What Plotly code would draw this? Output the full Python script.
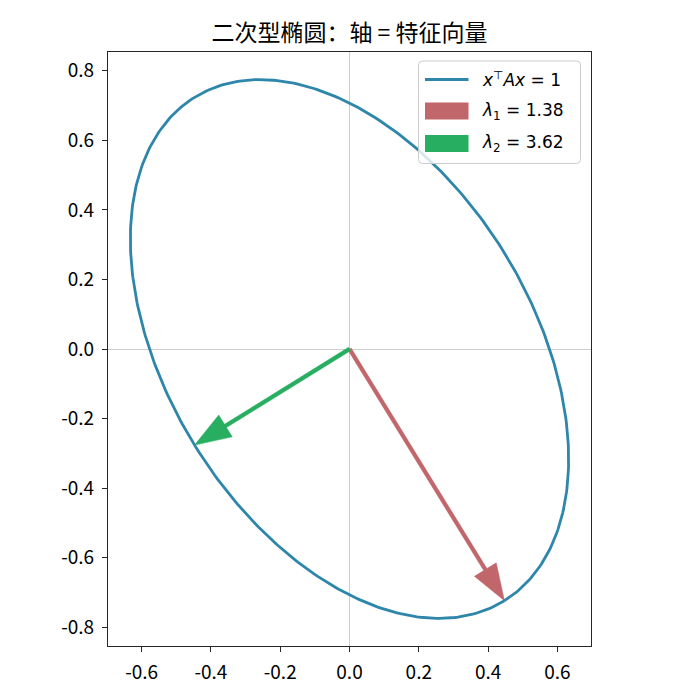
import numpy as np
import plotly.graph_objects as go

# quadratic form x^T A x = 1
A = [[3.0, 1.0],
     [1.0, 2.0]]

x_ticks = [-0.6, -0.4, -0.2, 0.0, 0.2, 0.4, 0.6]
y_ticks = [-0.8, -0.6, -0.4, -0.2, 0.0, 0.2, 0.4, 0.6, 0.8]
x_range = [-0.697, 0.697]
y_range = [-0.854, 0.854]

ellipse_color = '#2e86ab'
arrow_colors = ['#c1666b', '#27ae60']

lam, vecs = np.linalg.eigh(np.array(A))

# ellipse from the eigen decomposition
t = np.linspace(0, 2 * np.pi, 400)
pts = vecs @ np.diag(1 / np.sqrt(lam)) @ np.vstack([np.cos(t), np.sin(t)])

# semi-axis vectors (both drawn pointing down, as in the figure)
tips = []
for i in range(2):
    v = vecs[:, i]
    if v[1] > 0:
        v = -v
    tips.append(v / np.sqrt(lam[i]))


def arrow_poly(tip, shaft=0.0055, head_w=0.037, head_l=0.105):
    tip = np.asarray(tip)
    u = tip / np.linalg.norm(tip)
    n = np.array([-u[1], u[0]])
    base = tip - u * head_l
    p = [n * shaft, base + n * shaft, base + n * head_w, tip,
         base - n * head_w, base - n * shaft, -n * shaft, n * shaft]
    p = np.array(p)
    return p[:, 0], p[:, 1]


fig = go.Figure()

for i in range(2):
    ax_, ay_ = arrow_poly(tips[i])
    fig.add_trace(go.Scatter(x=ax_, y=ay_, mode='lines', fill='toself',
                             fillcolor=arrow_colors[i],
                             line=dict(color=arrow_colors[i], width=0.5),
                             hoverinfo='skip', showlegend=False))

fig.add_trace(go.Scatter(x=pts[0], y=pts[1], mode='lines',
                         line=dict(color=ellipse_color, width=2.8),
                         showlegend=False))

# page has an 8px body margin, so the plot box is placed 8px up/left
L, T = 100, 44
W, H = 483, 594


# legend is laid out in pixels relative to the plot box (x 0..483, y 0..594)
def px(x):
    return x / W


def py(y):
    return (H - y) / H


shapes = []
x0, x1, y0, y1, r = 310.5, 472.5, 9, 111.5, 4
path = (f'M {px(x0 + r)},{py(y0)} L {px(x1 - r)},{py(y0)} '
        f'Q {px(x1)},{py(y0)} {px(x1)},{py(y0 + r)} '
        f'L {px(x1)},{py(y1 - r)} Q {px(x1)},{py(y1)} {px(x1 - r)},{py(y1)} '
        f'L {px(x0 + r)},{py(y1)} Q {px(x0)},{py(y1)} {px(x0)},{py(y1 - r)} '
        f'L {px(x0)},{py(y0 + r)} Q {px(x0)},{py(y0)} {px(x0 + r)},{py(y0)} Z')
shapes.append(dict(type='path', xref='paper', yref='paper', path=path,
                   fillcolor='rgba(255,255,255,0.8)',
                   line=dict(color='#cccccc', width=1), layer='above'))
shapes.append(dict(type='line', xref='paper', yref='paper',
                   x0=px(317), x1=px(360.5), y0=py(27.5), y1=py(27.5),
                   line=dict(color=ellipse_color, width=2.8), layer='above'))
for c, (ya, yb) in zip(arrow_colors, [(50.5, 67.5), (83, 100)]):
    shapes.append(dict(type='rect', xref='paper', yref='paper',
                       x0=px(317), x1=px(360.5), y0=py(yb), y1=py(ya),
                       fillcolor=c, line=dict(width=0), layer='above'))

labels = ['<i>x</i><sup>⊤</sup><i>Ax</i> = 1',
          f'<i>λ</i><sub>1</sub> = {lam[0]:.2f}',
          f'<i>λ</i><sub>2</sub> = {lam[1]:.2f}']
annotations = []
for lab, yc in zip(labels, [27.5, 59, 91.5]):
    annotations.append(dict(xref='paper', yref='paper', x=px(372), y=py(yc),
                            xanchor='left', yanchor='middle', showarrow=False,
                            text=lab, font=dict(family='DejaVu Sans', size=17,
                                                color='black')))

axis_common = dict(showline=True, mirror=True, linecolor='#262626', linewidth=1.1,
                   ticks='outside', ticklen=5, tickwidth=1.1, tickcolor='#262626',
                   showgrid=False, zeroline=True, zerolinecolor='#cccccc',
                   zerolinewidth=0.9, ticklabelstandoff=4,
                   tickfont=dict(family='Noto Sans CJK SC', size=19, color='black'))

fig.update_layout(
    width=700, height=700,
    margin=dict(l=L, r=700 - L - W, t=T, b=700 - T - H),
    paper_bgcolor='white', plot_bgcolor='white',
    title=dict(text='二次型椭圆：轴 = 特征向量', x=0.5, xref='paper',
               y=1 - 24.5 / 700, yanchor='middle',
               font=dict(family='Noto Sans CJK SC', size=23, color='black')),
    xaxis=dict(range=x_range, tickvals=x_ticks,
               ticktext=[f'{v:.1f}' for v in x_ticks], **axis_common),
    yaxis=dict(range=y_range, tickvals=y_ticks,
               ticktext=[f'{v:.1f}' for v in y_ticks], **axis_common),
    shapes=shapes, annotations=annotations, showlegend=False,
)

fig.write_html('out.html')
